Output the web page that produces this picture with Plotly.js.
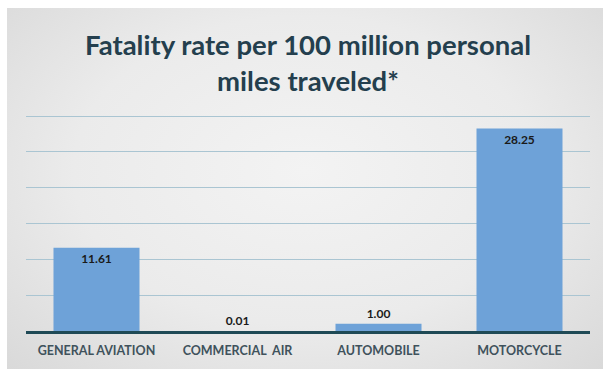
<!DOCTYPE html>
<html>
<head>
<meta charset="utf-8">
<script src="https://cdn.plot.ly/plotly-3.0.1.min.js"></script>
<style>
html,body{margin:0;padding:0;background:#ffffff;}
#wrap{position:relative;width:603px;height:369px;overflow:hidden;}
#bg{position:absolute;left:7px;top:8px;width:596px;height:361px;
background:radial-gradient(ellipse at 50% 45%, #f3f3f3 0%, #ebebeb 55%, #d9d9d9 100%);}
#chart{position:absolute;left:0;top:0;width:603px;height:369px;}
</style>
</head>
<body>
<div id="wrap"><div id="bg"></div><div id="chart"></div></div>
<script>
const categories = ["GENERAL AVIATION", "COMMERCIAL  AIR", "AUTOMOBILE", "MOTORCYCLE"];
const fatalityRates = [11.61, 0.01, 1.00, 28.25];
const labelPositions = ["inside", "outside", "outside", "inside"];
const yTicks = [0, 5, 10, 15, 20, 25, 30];

const trace = {
  type: "bar",
  x: categories,
  y: fatalityRates,
  marker: {color: "#6ea2d8", line: {width: 0}},
  text: fatalityRates.map(v => v.toFixed(2)),
  textposition: labelPositions,
  insidetextanchor: "end",
  textangle: 0,
  cliponaxis: false,
  textfont: {family: "Lato, 'Open Sans', sans-serif", size: 12, color: "#1a1a1a", weight: "bold"},
  hoverinfo: "none"
};

const layout = {
  width: 603, height: 369,
  margin: {l: 26, r: 13, t: 115, b: 38},
  paper_bgcolor: "rgba(0,0,0,0)",
  plot_bgcolor: "rgba(0,0,0,0)",
  bargap: 0.39,
  showlegend: false,
  title: {
    text: "<b>Fatality rate per 100 million personal<br>miles traveled*</b>",
    font: {family: "Lato, 'Open Sans', sans-serif", size: 27.5, color: "#243f4e"},
    x: 0.5, xanchor: "center", xref: "paper",
    y: 0.85, yanchor: "top", yref: "container"
  },
  xaxis: {
    type: "category",
    showline: true, linecolor: "#1f4a56", linewidth: 2.5,
    showgrid: false, ticks: "",
    tickfont: {family: "Lato, 'Open Sans', sans-serif", size: 12.5, color: "#3f525c", weight: "bold"},
    ticklabelstandoff: 6
  },
  yaxis: {
    range: [0, 30.15],
    tickvals: yTicks,
    showticklabels: false,
    showgrid: true, gridcolor: "#aac5d2", gridwidth: 1,
    zeroline: false, showline: false, ticks: ""
  }
};

Plotly.newPlot("chart", [trace], layout, {displayModeBar: false, staticPlot: true});
</script>
</body>
</html>
